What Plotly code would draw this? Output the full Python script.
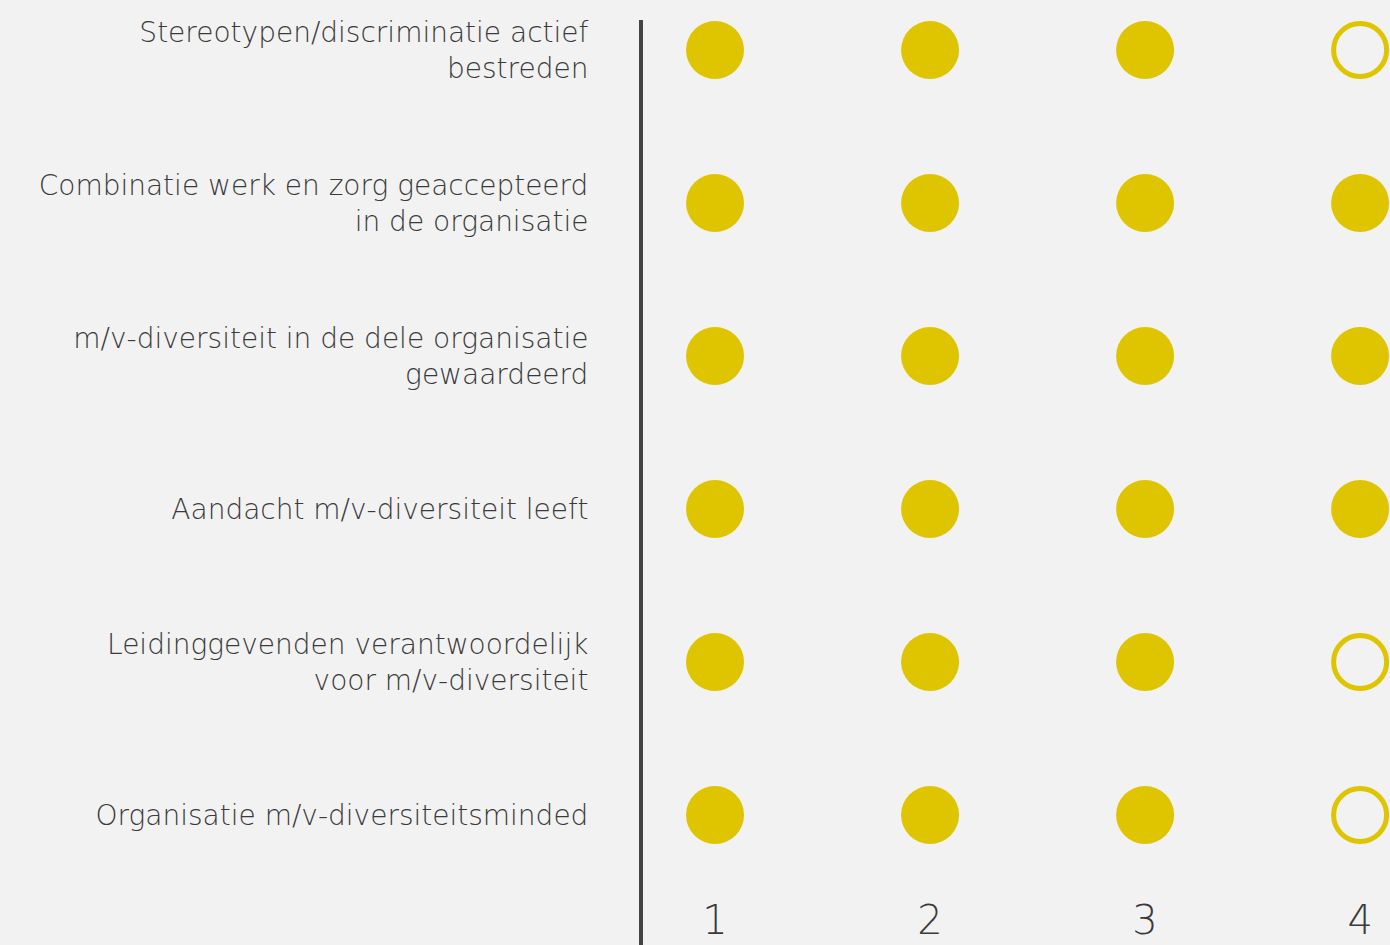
import plotly.graph_objects as go

categories = [
    "Stereotypen/discriminatie actief<br>bestreden",
    "Combinatie werk en zorg geaccepteerd<br>in de organisatie",
    "m/v-diversiteit in de dele organisatie<br>gewaardeerd",
    "Aandacht m/v-diversiteit leeft",
    "Leidinggevenden verantwoordelijk<br>voor m/v-diversiteit",
    "Organisatie m/v-diversiteitsminded",
]
levels = [1, 2, 3, 4]
level_labels = ["1", "2", "3", "4"]
# 1 = achieved (filled dot), 0 = not achieved (open dot); one list per level
level_1 = [1, 1, 1, 1, 1, 1]
level_2 = [1, 1, 1, 1, 1, 1]
level_3 = [1, 1, 1, 1, 1, 1]
level_4 = [0, 1, 1, 1, 0, 0]
status = [level_1, level_2, level_3, level_4]

YELLOW = "#dfc400"
BG = "#f1f2f1"
TEXT = "#3a3a3a"
FONT = "DejaVu Sans"

fx, fy, ox, oy = [], [], [], []
for lvl, vals in zip(levels, status):
    for i, v in enumerate(vals):
        if v:
            fx.append(lvl); fy.append(i)
        else:
            ox.append(lvl); oy.append(i)

fig = go.Figure()
fig.add_trace(go.Scatter(
    x=fx, y=fy, mode="markers",
    marker=dict(symbol="circle", size=58, color=YELLOW, line=dict(width=0)),
    hoverinfo="skip", cliponaxis=False,
))
fig.add_trace(go.Scatter(
    x=ox, y=oy, mode="markers",
    marker=dict(symbol="circle-open", size=53, color=YELLOW, line=dict(width=5, color=YELLOW)),
    hoverinfo="skip", cliponaxis=False,
))

fig.update_layout(
    width=1390, height=945,
    margin=dict(l=643, r=0, t=20, b=0),
    paper_bgcolor=BG, plot_bgcolor=BG,
    showlegend=False,
    font=dict(family=FONT, color=TEXT, size=28, weight=200),
    xaxis=dict(
        range=[0.665, 4.139],
        tickvals=levels, ticktext=level_labels,
        ticklabelposition="inside",
        showgrid=False, zeroline=False, showline=False, ticks="",
        tickfont=dict(size=40, color=TEXT, family=FONT, weight=200),
    ),
    yaxis=dict(
        range=[5.85, -0.196],
        tickvals=list(range(len(categories))), ticktext=categories,
        showgrid=False, zeroline=False,
        showline=True, linewidth=4, linecolor="#444444",
        ticks="", ticklabelstandoff=45,
        tickfont=dict(size=28, color=TEXT, family=FONT, weight=200),
    ),
)

fig.write_html(
    "out.html",
    config={"displayModeBar": False},
    post_script="document.body.style.margin='0';document.body.style.background='%s';" % BG,
)
